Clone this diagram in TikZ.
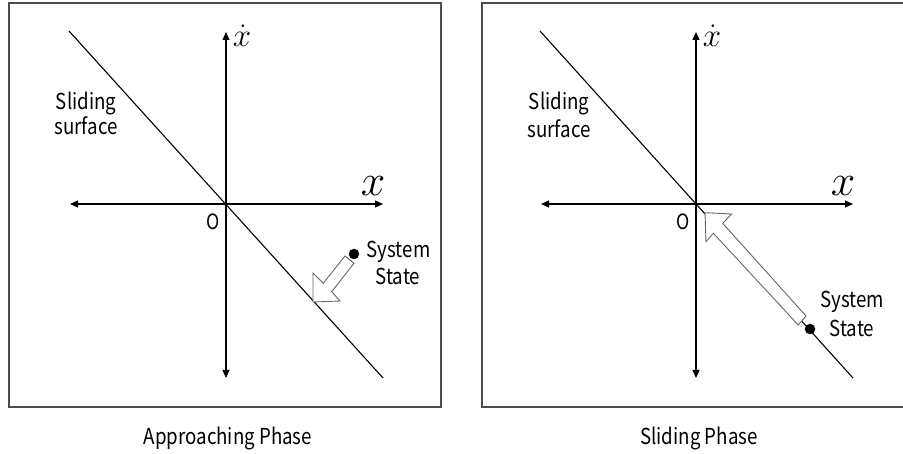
\RequirePackage{fix-cm}
\documentclass[tikz,border=0pt]{standalone}
\usepackage{fontspec}
\setmainfont{Noto Sans CJK JP}[FakeStretch=0.85]
\usetikzlibrary{arrows.meta}
\tikzset{
  frame/.style={draw=black!70, line width=1.5pt},
  axis/.style={line width=1.2pt, {Triangle[length=8pt,width=7pt]}-{Triangle[length=8pt,width=7pt]}},
  surf/.style={line width=1.1pt},
  lbl/.style={font=\fontsize{22}{28}\selectfont, inner sep=0pt, anchor=base},
  otxt/.style={font=\fontsize{21}{22}\selectfont, inner sep=0pt},
  hollow/.style={draw=black!60, fill=white, line width=0.9pt, line join=miter},
  stdot/.style={circle, fill=black, minimum size=10.5pt, inner sep=0pt},
  bigx/.style={font=\fontsize{44}{44}\selectfont, inner sep=0pt},
  dotx/.style={font=\fontsize{33}{33}\selectfont, inner sep=0pt}
}
\begin{document}
\begin{tikzpicture}[x=1pt,y=-1pt]
\useasboundingbox (0,0) rectangle (903,454);
% ---------- left panel ----------
\draw[frame] (9,3) rectangle (441,407);
\coordinate (LO) at (226,204);
\coordinate (LN) at (226,32);
\coordinate (LS) at (226,378);
\coordinate (LW) at (70,204);
\coordinate (LE) at (383,204);
\coordinate (LA) at (69,31);
\coordinate (LB) at (383,378);
\draw[axis] (LW) -- (LE);
\draw[axis] (LS) -- (LN);
\draw[surf] (LA) -- (LB);
\node[dotx] (Lxd) at (242,36) {$\dot{x}$};
\node[bigx] (Lx) at (373,186) {$x$};
\node[otxt] (LOl) at (213,222) {O};
\node[lbl] (Lsurf1) at (86,110) {Sliding};
\node[lbl] (Lsurf2) at (86,135) {surface};
\node[stdot] (Ldot) at (354,254) {};
\node[lbl] (Lsys1) at (398.5,258) {System};
\node[lbl] (Lsys2) at (398,285) {State};
\draw[hollow] (313,302) -- (313,273) -- (323.3,283.3) -- (345,256) -- (354,263.3) -- (331.7,291.7) -- (340,301) -- cycle;
\node[lbl] (Lcap) at (228,444) {Approaching Phase};
% ---------- right panel ----------
\draw[frame] (482,3) rectangle (906,407);
\coordinate (RO) at (696,204);
\coordinate (RN) at (696,32);
\coordinate (RS) at (696,378);
\coordinate (RW) at (541,204);
\coordinate (RE) at (853,204);
\coordinate (RA) at (540,31);
\coordinate (RB) at (853,378);
\draw[axis] (RW) -- (RE);
\draw[axis] (RS) -- (RN);
\draw[surf] (RA) -- (RB);
\node[dotx] (Rxd) at (712,36) {$\dot{x}$};
\node[bigx] (Rx) at (843,186) {$x$};
\node[otxt] (ROl) at (683,222) {O};
\node[lbl] (Rsurf1) at (559,110) {Sliding};
\node[lbl] (Rsurf2) at (559,138) {surface};
\draw[hollow] (705,212.7) -- (731.7,214) -- (722.7,223.3) -- (806,316) -- (798.3,325) -- (713.3,233.3) -- (706,241.7) -- cycle;
\node[stdot] (Rdot) at (810,329) {};
\node[lbl] (Rsys1) at (852,308) {System};
\node[lbl] (Rsys2) at (852,337) {State};
\node[lbl] (Rcap) at (699,444) {Sliding Phase};
\end{tikzpicture}
\end{document}
